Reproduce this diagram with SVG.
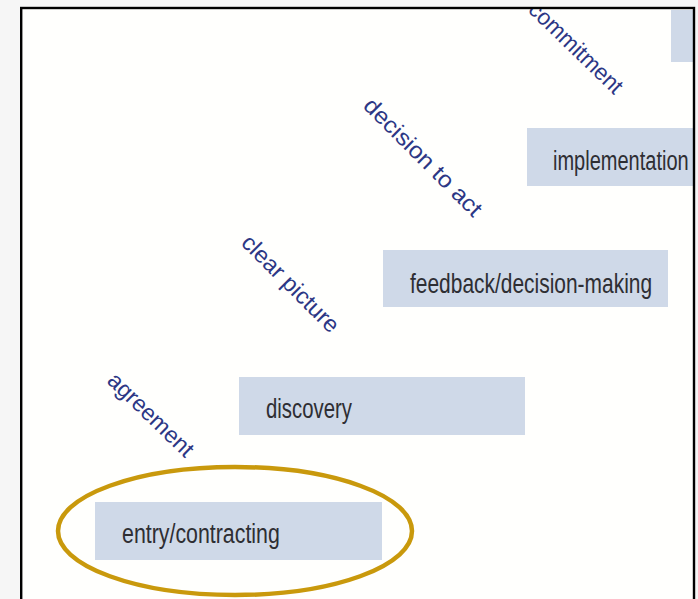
<svg xmlns="http://www.w3.org/2000/svg" width="698" height="599" viewBox="0 0 698 599">
  <defs>
    <clipPath id="frame-clip">
      <rect x="22" y="9" width="671" height="600"/>
    </clipPath>
    <style>
      .stage { fill: #cfd9e8; }
      .stage-label { font-family: "Liberation Sans", "DejaVu Sans", sans-serif; font-size: 28px; fill: #2e2e33; }
      .step-label { font-family: "Liberation Sans", "DejaVu Sans", sans-serif; font-size: 23px; fill: #2c3785; }
    </style>
  </defs>

  <!-- page background -->
  <rect x="0" y="0" width="698" height="599" fill="#f6f6f6"/>
  <rect x="21" y="8" width="673" height="600" fill="#fffffd"/>

  <!-- stages (narrowed type via horizontal scale) -->
  <g id="stage-top" clip-path="url(#frame-clip)">
    <rect class="stage" x="671" y="10" width="40" height="52"/>
  </g>
  <g id="stage-implementation">
    <rect class="stage" x="527" y="128" width="166" height="58"/>
    <text class="stage-label" transform="translate(553 170) scale(0.715 1)">implementation</text>
  </g>
  <g id="stage-feedback">
    <rect class="stage" x="383" y="250" width="285" height="57"/>
    <text class="stage-label" transform="translate(410 293) scale(0.748 1)">feedback/decision-making</text>
  </g>
  <g id="stage-discovery">
    <rect class="stage" x="239" y="377" width="286" height="58"/>
    <text class="stage-label" transform="translate(266 418) scale(0.727 1)">discovery</text>
  </g>
  <g id="stage-entry">
    <rect class="stage" x="95" y="502" width="287" height="58"/>
    <text class="stage-label" transform="translate(122 543) scale(0.763 1)">entry/contracting</text>
  </g>

  <!-- step labels between stages -->
  <g id="connectors" clip-path="url(#frame-clip)">
    <text class="step-label" transform="translate(106 382) rotate(44)">agreement</text>
    <text class="step-label" transform="translate(240 244) rotate(45) scale(1.02 1)">clear picture</text>
    <text class="step-label" transform="translate(362 107) rotate(45) scale(1.07 1)">decision to act</text>
    <text class="step-label" transform="translate(527 11) rotate(44) scale(0.97 1)">commitment</text>
  </g>

  <!-- highlight around the first stage -->
  <g id="highlight">
    <ellipse cx="235" cy="531" rx="177" ry="64" fill="none" stroke="#c9990c" stroke-width="4.5"/>
  </g>

  <!-- frame -->
  <rect x="21.2" y="8" width="672.8" height="620" fill="none" stroke="#000" stroke-width="2.4"/>
</svg>
